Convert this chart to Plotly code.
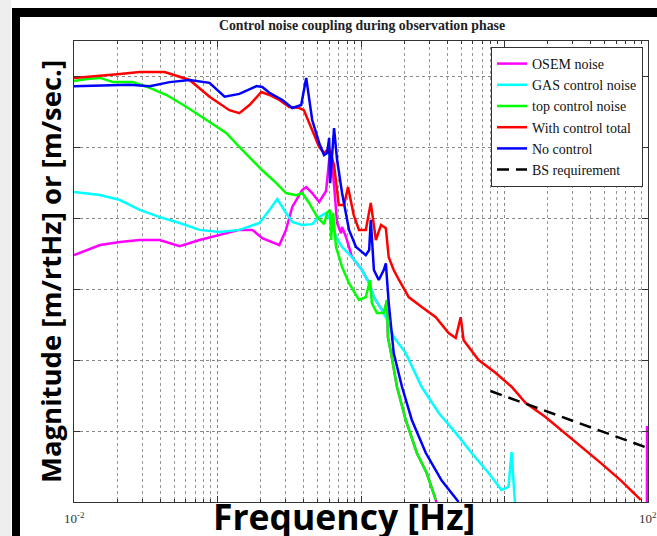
import math
import plotly.graph_objects as go

# ---------------- data ----------------
osem_freq = [0.01, 0.0152, 0.0209, 0.0287, 0.0396, 0.0545, 0.075, 0.103, 0.142, 0.175,
             0.205, 0.270, 0.30, 0.332, 0.389, 0.415, 0.457, 0.511, 0.571, 0.60,
             0.619, 0.649, 0.681, 0.726, 0.738, 0.786, 0.865, 1.016, 1.14, 1.23,
             1.40, 1.44, 1.52, 1.54, 1.62, 1.78, 2.05, 2.45, 2.87, 3.32,
             3.77, 98.0, 98.5]
osem_mag = [3.0e-9, 4.16e-9, 4.6e-9, 4.9e-9, 4.9e-9, 4.0e-9, 4.9e-9, 5.8e-9, 6.8e-9, 6.8e-9,
            5.2e-9, 4.16e-9, 6.8e-9, 1.43e-8, 2.48e-8, 2.73e-8, 2.25e-8, 1.68e-8, 2.4e-8, 6.6e-8,
            7.7e-8, 2.9e-8, 8.5e-9, 6.1e-9, 7.5e-9, 5.4e-9, 2.82e-9, 1.85e-9, 1.21e-9, 7.7e-10,
            5.06e-10, 4.6e-10, 7.0e-10, 2.1e-10, 1.25e-10, 4.2e-11, 1.43e-11, 4.9e-12, 2.56e-12, 1.07e-12,
            3e-13, 1e-14, 1.18e-11]

gas_freq = [0.01, 0.0152, 0.0209, 0.0287, 0.0396, 0.0545, 0.075, 0.103, 0.142, 0.196,
            0.230, 0.261, 0.30, 0.332, 0.389, 0.457, 0.511, 0.571, 0.60, 0.670,
            0.738, 0.865, 1.016, 1.14, 1.23, 1.40, 1.56, 1.69, 2.05, 2.65,
            3.48, 4.57, 5.90, 7.74, 9.53, 10.66, 11.2, 11.9]
gas_mag = [2.32e-8, 2.11e-8, 1.79e-8, 1.3e-8, 1.03e-8, 8.5e-9, 6.8e-9, 6.35e-9, 6.8e-9, 8.5e-9,
           1.3e-8, 1.85e-8, 1.18e-8, 8.8e-9, 7.96e-9, 8.2e-9, 1.03e-8, 1.18e-8, 1.03e-8, 5.4e-9,
           3.9e-9, 2.82e-9, 1.85e-9, 1.21e-9, 7.7e-10, 5.06e-10, 3.32e-10, 2.11e-10, 1.25e-10, 4.16e-11,
           1.79e-11, 9.4e-12, 4.9e-12, 2.56e-12, 1.48e-12, 1.63e-12, 5.06e-12, 8e-13]

top_freq = [0.01, 0.0123, 0.0152, 0.0187, 0.0257, 0.0337, 0.0442, 0.0609, 0.0839, 0.1155,
            0.142, 0.167, 0.205, 0.257, 0.30, 0.354, 0.389, 0.435, 0.495, 0.553,
            0.581, 0.609, 0.619, 0.639, 0.670, 0.738, 0.825, 0.968, 1.08, 1.155,
            1.19, 1.29, 1.44, 1.52, 1.54, 1.62, 1.78, 2.05, 2.45, 2.87,
            3.32]
top_mag = [8.5e-7, 9.1e-7, 9.4e-7, 8.2e-7, 8.2e-7, 6.8e-7, 5.4e-7, 3.66e-7, 2.4e-7, 1.57e-7,
           1.0e-7, 7.2e-8, 4.7e-8, 3.1e-8, 2.25e-8, 2.1e-8, 2.25e-8, 1.63e-8, 1.03e-8, 8.2e-9,
           1.18e-8, 1.3e-8, 4.9e-9, 1.18e-8, 3.9e-9, 2.04e-9, 1.21e-9, 7.0e-10, 7.7e-10, 1.34e-9,
           6.35e-10, 4.6e-10, 4.6e-10, 7.0e-10, 2.1e-10, 1.25e-10, 4.2e-11, 1.43e-11, 4.9e-12, 2.56e-12,
           1.07e-12]

total_freq = [0.01, 0.0152, 0.0209, 0.0287, 0.0428, 0.0639, 0.088, 0.121, 0.142, 0.167,
              0.202, 0.230, 0.270, 0.316, 0.371, 0.40, 0.435, 0.472, 0.511, 0.553,
              0.60, 0.649, 0.70, 0.762, 0.812, 0.89, 0.968, 1.08, 1.17, 1.27,
              1.38, 1.49, 1.56, 1.69, 1.84, 2.15, 2.65, 3.32, 4.08, 4.57,
              4.95, 5.19, 6.60, 8.65, 11.2, 14.0, 19.3, 24.9, 34.2, 47.2,
              64.9, 89.0]
total_mag = [9.4e-7, 1.0e-6, 1.07e-6, 1.14e-6, 1.14e-6, 8.8e-7, 5.1e-7, 3.3e-7, 3.0e-7, 3.9e-7,
             5.95e-7, 5.4e-7, 4.6e-7, 3.66e-7, 3.54e-7, 3.3e-7, 2.25e-7, 1.48e-7, 1.0e-7, 8.2e-8,
             9.7e-8, 5.6e-8, 1.52e-8, 1.52e-8, 2.73e-8, 1.1e-8, 6.8e-9, 6.8e-9, 1.63e-8, 4.9e-9,
             8.0e-9, 7.2e-9, 2.8e-9, 1.85e-9, 1.34e-9, 7.7e-10, 5.6e-10, 4.0e-10, 2.4e-10, 2.04e-10,
             4.0e-10, 1.9e-10, 1.0e-10, 6.6e-11, 4.2e-11, 2.5e-11, 1.57e-11, 1.03e-11, 6.0e-12, 3.5e-12,
             2.0e-12, 1.07e-12]

nocontrol_freq = [0.01, 0.0245, 0.0337, 0.0464, 0.0639, 0.088, 0.112, 0.142, 0.187, 0.205,
                  0.230, 0.283, 0.332, 0.354, 0.383, 0.415, 0.435, 0.457, 0.511, 0.553,
                  0.581, 0.60, 0.609, 0.649, 0.681, 0.738, 0.825, 0.923, 1.08, 1.14,
                  1.17, 1.23, 1.33, 1.44, 1.49, 1.56, 1.69, 1.93, 2.26, 2.83,
                  3.65, 4.79]
nocontrol_mag = [7.2e-7, 7.5e-7, 7.2e-7, 8.2e-7, 8.8e-7, 8.0e-7, 5.1e-7, 5.6e-7, 7.2e-7, 7.0e-7,
                 5.8e-7, 4.6e-7, 3.54e-7, 3.66e-7, 3.9e-7, 9.4e-7, 4.6e-7, 2.4e-7, 1.14e-7, 7.7e-8,
                 8.2e-8, 1.34e-7, 3.1e-8, 1.85e-7, 6.6e-8, 2.25e-8, 6.8e-9, 3.9e-9, 3.0e-9, 3.54e-9,
                 9.4e-9, 1.85e-9, 1.34e-9, 1.85e-9, 2.3e-9, 6.4e-10, 1.25e-10, 4.2e-11, 1.43e-11, 4.9e-12,
                 2.0e-12, 1.0e-12]

bs_freq = [7.98, 95.3]
bs_mag = [3.66e-11, 5.95e-12]

x_tickvals = [0.01, 0.1, 1, 10, 100]
x_label_vals = [0.01, 100]
x_label_text = ["10<sup>-2</sup>", "10<sup>2</sup>"]
y_tickvals = [1e-12, 1e-11, 1e-10, 1e-9, 1e-8, 1e-7, 1e-6]

series = [
    ("OSEM noise", osem_freq, osem_mag, "#ff00ff", "solid"),
    ("GAS control noise", gas_freq, gas_mag, "#00ffff", "solid"),
    ("top control noise", top_freq, top_mag, "#00ff00", "solid"),
    ("With control total", total_freq, total_mag, "#ff0000", "solid"),
    ("No control", nocontrol_freq, nocontrol_mag, "#0000ff", "solid"),
    ("BS requirement", bs_freq, bs_mag, "#000000", "12px,7px"),
]

W, H = 657, 536
L, R, T, B = 74, 648, 41, 502   # plot area in pixels


def px(p):
    return (p - L) / (R - L)


def py(p):
    return (B - p) / (B - T)


fig = go.Figure()
for name, f, m, color, dash in series:
    fig.add_trace(go.Scatter(x=f, y=m, mode="lines", name=name,
                             line=dict(color=color, width=2.5, dash=dash)))

minor_x = [k * 10.0 ** e for e in range(-2, 2) for k in range(2, 10)]

fig.update_layout(
    width=W, height=H,
    margin=dict(l=L, r=W - R, t=T, b=H - B, pad=0, autoexpand=False),
    paper_bgcolor="white", plot_bgcolor="white",
    title=dict(text="Control noise coupling during observation phase",
               x=362 / W, xanchor="center",
               y=1 - 25 / H, yanchor="middle",
               font=dict(family="Liberation Serif", size=13.8, color="#222", weight="bold")),
    xaxis=dict(type="log", range=[-2, 2], showline=True, linecolor="#333", linewidth=1,
               mirror="ticks", ticks="inside", ticklen=6, tickcolor="#333",
               tickvals=x_tickvals, showticklabels=False, automargin=False,
               showgrid=True, gridcolor="#888", griddash="dot", gridwidth=1,
               minor=dict(tickvals=minor_x, ticks="inside", ticklen=3, tickcolor="#333",
                          showgrid=True, gridcolor="#999", griddash="dot", gridwidth=1),
               zeroline=False),
    yaxis=dict(type="log", range=[-12, -5.507], showline=True, linecolor="#333", linewidth=1,
               mirror="ticks", ticks="inside", ticklen=6, tickcolor="#333",
               tickvals=y_tickvals, showticklabels=False, automargin=False,
               showgrid=True, gridcolor="#888", griddash="dot", gridwidth=1,
               zeroline=False),
    legend=dict(x=px(643), y=py(47), xanchor="right", yanchor="top",
                bgcolor="white", bordercolor="#333", borderwidth=1,
                font=dict(family="Liberation Serif", size=14, color="#111"),
                itemwidth=30),
    showlegend=True,
)

shapes = [
    # slide frame
    dict(type="rect", xref="paper", yref="paper", x0=px(0), x1=px(11), y0=py(536), y1=py(0),
         fillcolor="#eeeeee", line=dict(width=0), layer="above"),
    dict(type="rect", xref="paper", yref="paper", x0=px(12), x1=px(20), y0=py(536), y1=py(8),
         fillcolor="black", line=dict(width=0), layer="above"),
    dict(type="rect", xref="paper", yref="paper", x0=px(12), x1=px(657), y0=py(17), y1=py(8),
         fillcolor="black", line=dict(width=0), layer="above"),
]
fig.update_layout(shapes=shapes)

# tick labels at the ends of the frequency axis
for v, t in zip(x_label_vals, x_label_text):
    fig.add_annotation(text=t, xref="x", yref="paper", x=math.log10(v), y=py(518),
                       xanchor="center", yanchor="middle", showarrow=False,
                       font=dict(family="Liberation Serif", size=13, color="#333"))

ytitle = "Magnitude [m/rtHz] or [m/sec.]"
xtitle = "Frequency [Hz]"
fig.add_annotation(text=ytitle, xref="paper", yref="paper", x=px(50), y=py(272),
                   xanchor="center", yanchor="middle", textangle=-90, showarrow=False,
                   font=dict(family="Open Sans", size=27.5, color="black", weight="bold"))
fig.add_annotation(text=xtitle, xref="paper", yref="paper", x=px(344), y=py(515.5),
                   xanchor="center", yanchor="middle", showarrow=False,
                   font=dict(family="Open Sans", size=35.5, color="black", weight="bold"))

fig.write_html("out.html")
